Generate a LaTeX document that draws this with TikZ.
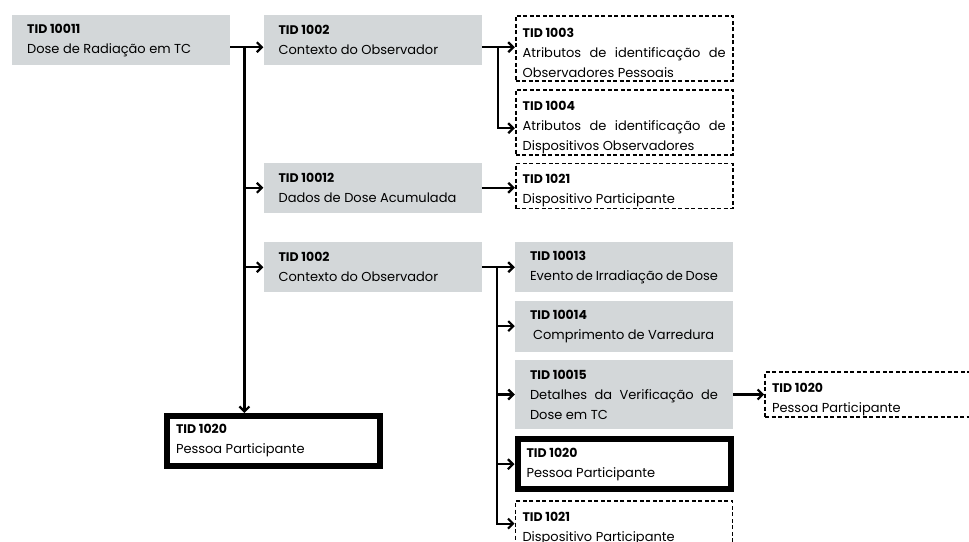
\documentclass[tikz,border=0pt]{standalone}
\usepackage{fontspec}
\setmainfont{Poppins}
\usetikzlibrary{positioning,arrows.meta}
\definecolor{boxgray}{RGB}{211,215,217}
\tikzset{
  box/.style   ={inner xsep=0pt, inner ysep=0pt, align=justify,
                 font=\fontsize{13}{20}\selectfont},
  tmpl/.style  ={box, fill=boxgray, minimum width=218pt, text width=188pt},
  optbox/.style={box, draw, line width=1.8pt, dash pattern=on 4pt off 2.5pt,
                 minimum width=217pt, text width=203pt,
                 execute at begin node=\rule{0pt}{19pt}},
  req/.style   ={box, draw, line width=6pt, minimum width=213pt, text width=195pt},
  fl/.style    ={-{Straight Barb[length=5pt,width=10pt]}, line width=2.2pt}
}
\newcommand{\tid}[1]{{\fontsize{12.5}{20}\selectfont\bfseries TID #1}}

\begin{document}
\begin{tikzpicture}[node distance=8pt]
  \path[use as bounding box, clip] (0,0) rectangle (969pt,-541pt);

  \node[tmpl, minimum height=50pt, anchor=north west](a) at (12pt,-15pt){\tid{10011}\\Dose de Radiação em TC};
  \node[tmpl, minimum height=50pt, right=33pt of a](b1){\tid{1002}\\Contexto do Observador};
  \node[optbox, minimum height=65pt, right=33pt of b1.north east, anchor=north west](c3){\tid{1003}\\Atributos de identificação de\linebreak Observadores Pessoais};
  \node[optbox, minimum height=65pt, below=7pt of c3](c4){\tid{1004}\\Atributos de identificação de\linebreak Dispositivos Observadores};
  \node[optbox, minimum height=45pt, below=7pt of c4](c21){\tid{1021}\\Dispositivo Participante};
  \node[tmpl, minimum height=50pt, left=33pt of c21.north west, anchor=north east](b2){\tid{10012}\\Dados de Dose Acumulada};
  \node[tmpl, minimum height=50pt, below=29pt of b2](b3){\tid{1002}\\Contexto do Observador};

  \node[tmpl, minimum height=50pt, right=33pt of b3](d13){\tid{10013}\\Evento de Irradiação de Dose};
  \node[tmpl, minimum height=51pt, below=of d13](d14){\tid{10014}\\\hspace*{3pt}Comprimento de Varredura};
  \node[tmpl, minimum height=69pt, below=of d14](d15){\tid{10015}\\Detalhes da Verificação de\linebreak Dose em TC};
  \node[req, minimum height=50pt, below=7pt of d15](d20){\tid{1020}\\Pessoa Participante};
  \node[optbox, minimum height=45pt, below=of d20](d21){\tid{1021}\\Dispositivo Participante};
  \node[optbox, minimum height=45pt, right=31pt of d15](e20){\tid{1020}\\Pessoa Participante};

  \node[req, minimum height=50pt, anchor=north west](a20) at (164pt,-413pt){\tid{1020}\\Pessoa Participante};

  % main trunk
  \coordinate (tr) at ([xshift=14pt,yshift=-7pt]a.east);
  \draw[fl]([yshift=-7pt]a.east)--([yshift=-7pt]b1.west);
  \draw[fl](tr)--(tr |- a20.north);
  \draw[fl](tr |- b2.west)--(b2.west);
  \draw[fl](tr |- b3.west)--(b3.west);

  % observer context
  \coordinate (ba) at ([xshift=16pt,yshift=-7pt]b1.east);
  \draw[fl]([yshift=-7pt]b1.east)--(ba -| c3.west);
  \draw[fl](ba) |- ([yshift=-6pt]c4.west);
  \draw[fl](b2.east)--(b2.east -| c21.west);

  % irradiation branch
  \coordinate (bb) at ([xshift=15pt]b3.east);
  \draw[fl](b3.east)--(d13.west);
  \draw[fl](bb) |- (d14.west);
  \draw[fl](bb) |- (d15.west);
  \draw[fl](bb) |- (d20.west);
  \draw[fl](bb) |- (d21.west);
  \draw[fl](d15.east)--(e20.west);
\end{tikzpicture}
\end{document}
